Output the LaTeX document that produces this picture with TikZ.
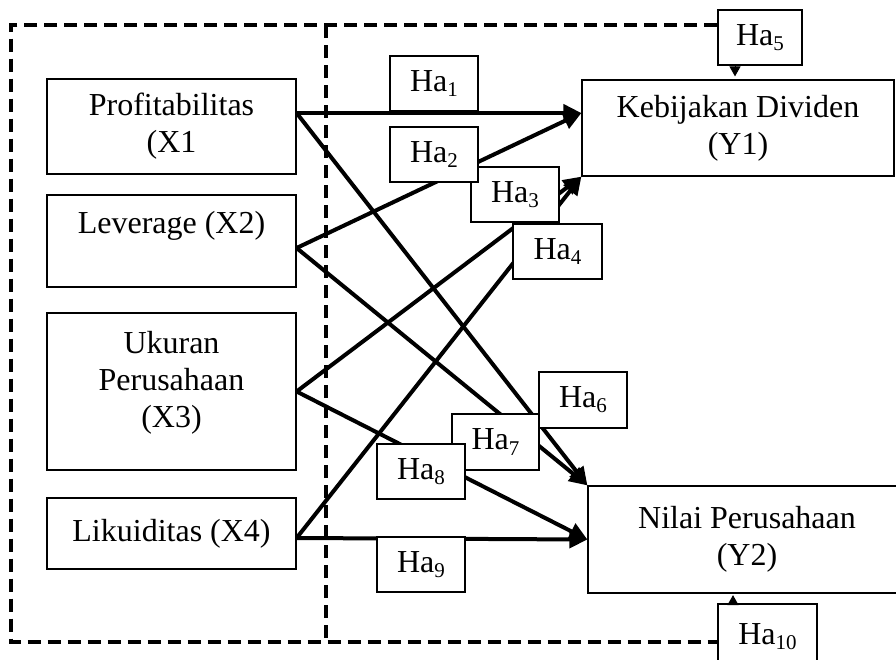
\documentclass[tikz,border=0pt]{standalone}
\usepackage{fontspec}
\setmainfont{Liberation Serif}
\usetikzlibrary{arrows.meta}
\newcommand\hasub[1]{Ha\raisebox{-0.16em}{\fontsize{21}{21}\selectfont #1}}
\begin{document}
\begin{tikzpicture}[x=1pt,y=-1pt,
  font=\fontsize{32}{37}\selectfont,
  vbox/.style={draw, line width=1.2pt, fill=white, align=center, inner sep=0pt},
  hbox/.style={draw, line width=1.2pt, fill=white, minimum width=88pt, minimum height=55pt, inner sep=0pt},
  link/.style={line width=4pt, -{Triangle[length=18pt,width=17pt]}},
  frame/.style={line width=3.5pt, dash pattern=on 13pt off 7pt},
  smallarrow/.style={line width=1pt, -{Triangle[length=10pt,width=11pt]}}]
\clip (0,0) rectangle (896,659);

% variable boxes
\node[vbox, minimum width=249pt, minimum height=95pt] (x1) at (171.5,126.5) {Profitabilitas\\(X1};
\node[vbox, minimum width=249pt, minimum height=92pt] (x2) at (171.5,241) {Leverage (X2)\\\mbox{}};
\node[vbox, minimum width=249pt, minimum height=157pt] (x3) at (171.5,391.5) {Ukuran\\Perusahaan\\(X3)\\[-12pt]\mbox{}};
\node[vbox, minimum width=249pt, minimum height=71pt] (x4) at (171.5,533.5) {Likuiditas (X4)};
\node[vbox, minimum width=312pt, minimum height=96pt] (y1) at (738,128) {Kebijakan Dividen\\(Y1)};
\node[vbox, minimum width=318pt, minimum height=107pt] (y2) at (747,539.5) {Nilai Perusahaan\\(Y2)};

% hypothesis boxes that meet the frame
\node[hbox, minimum width=84pt] (ha5) at (760,37.5) {\hasub{5}};
\node[hbox, minimum width=99pt, minimum height=66pt] (ha10) at (767.5,637) {\hasub{10}};

% dashed frame
\coordinate (ftl) at (11,25);
\coordinate (fbl) at (11,642);
\coordinate (fti) at (326,25);
\coordinate (fbi) at (326,642);
\draw[frame] (ha5.west |- ftl) -- (ftl) -- (fbl) -- (ha10.west |- fbl);
\draw[frame] (fti) -- (fbi);

% connectors
\draw[link] ([yshift=13.5pt]x1.east) -- ([yshift=15pt]y1.west);
\draw[link] ([yshift=-7pt]x2.east) -- ([yshift=15pt]y1.west);
\draw[link] (x3.east) -- (y1.south west);
\draw[link] ([yshift=-4.5pt]x4.east) -- (y1.south west);
\draw[link] ([yshift=13.5pt]x1.east) -- (y2.north west);
\draw[link] ([yshift=-7pt]x2.east) -- (y2.north west);
\draw[link] (x3.east) -- (y2.west);
\draw[link] ([yshift=-4.5pt]x4.east) -- (y2.west);

\draw[smallarrow] ([xshift=-25pt]ha5.south) -- ([xshift=-3pt,yshift=3pt]y1.north);
\draw[smallarrow] ([xshift=-34.5pt]ha10.north) -- ([xshift=-14pt,yshift=-1.5pt]y2.south);

% hypothesis labels
\node[hbox] (ha1) at (434,83.5) {\hasub{1}};
\node[hbox] (ha3) at (515,194.5) {\hasub{3}};
\node[hbox] (ha2) at (434,154.5) {\hasub{2}};
\node[hbox, minimum width=89pt] (ha4) at (557.5,251.5) {\hasub{4}};
\node[hbox, minimum height=56pt] (ha6) at (583,400) {\hasub{6}};
\node[hbox, minimum width=87pt, minimum height=56pt] (ha7) at (495.5,442) {\hasub{7}};
\node[hbox] (ha8) at (421,471.5) {\hasub{8}};
\node[hbox] (ha9) at (421,564.5) {\hasub{9}};
\end{tikzpicture}
\end{document}
